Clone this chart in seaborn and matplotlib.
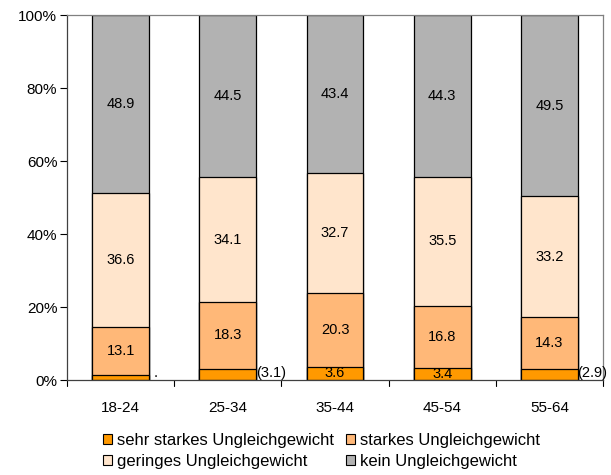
import numpy as np
import pandas as pd
import matplotlib
matplotlib.use('Agg')
import matplotlib.pyplot as plt
import seaborn as sns
from matplotlib.patches import Patch

age_groups = ['18-24', '25-34', '35-44', '45-54', '55-64']
series_names = ['sehr starkes Ungleichgewicht', 'starkes Ungleichgewicht',
                'geringes Ungleichgewicht', 'kein Ungleichgewicht']
sehr_starkes = [1.4, 3.1, 3.6, 3.4, 2.9]
starkes = [13.1, 18.3, 20.3, 16.8, 14.3]
geringes = [36.6, 34.1, 32.7, 35.5, 33.2]
kein = [48.9, 44.5, 43.4, 44.3, 49.5]
colors = ['#FF9900', '#FFB878', '#FFE5CC', '#B2B2B2']

sns.set_style('white')
plt.rcParams['font.family'] = ['Liberation Sans', 'DejaVu Sans']
plt.rcParams['text.color'] = 'black'
plt.rcParams['xtick.color'] = 'black'
plt.rcParams['ytick.color'] = 'black'

df = pd.DataFrame({'age': age_groups, 'sehr': sehr_starkes, 'starkes': starkes,
                   'geringes': geringes, 'kein': kein})
cols = ['sehr', 'starkes', 'geringes', 'kein']
cum = df[cols].cumsum(axis=1)
# normalise top to 100
cum = cum.div(cum['kein'], axis=0) * 100

fig = plt.figure(figsize=(6.11, 4.75), dpi=100)
ax = fig.add_axes([0.1097, 0.2, 0.8773, 0.7684])

# draw tallest cumulative first so smaller ones sit on top
for col, color in zip(cols[::-1], colors[::-1]):
    sns.barplot(x=df['age'], y=cum[col], color=color, width=0.53,
                edgecolor='black', linewidth=0.9, ax=ax, saturation=1)

ax.set_ylim(0, 100)
ax.set_xlim(-0.5, 4.5)
ax.set_yticks([0, 20, 40, 60, 80, 100])
ax.set_yticklabels(['0%', '20%', '40%', '60%', '80%', '100%'], fontsize=11)
ax.set_xticks(range(5))
ax.set_xticklabels(age_groups, fontsize=11)
ax.tick_params(axis='x', length=0, pad=15)
ax.tick_params(axis='y', left=True, length=5, width=0.8, color='black', pad=2)
ax.set_xlabel('')
ax.set_ylabel('')
for b in np.arange(-0.5, 5, 1):
    ax.plot([b, b], [0, -1.6], color='black', lw=0.8, clip_on=False)
for side in ['top', 'right']:
    ax.spines[side].set_color('#808080')
    ax.spines[side].set_linewidth(0.9)
for side in ['left', 'bottom']:
    ax.spines[side].set_color('#404040')
    ax.spines[side].set_linewidth(0.9)

# segment labels
lfs = 10.5
for i in range(5):
    bottoms = [0] + list(cum.iloc[i, :3])
    vals = [sehr_starkes[i], starkes[i], geringes[i], kein[i]]
    for j, (b, v) in enumerate(zip(bottoms, vals)):
        if j == 0:
            if v >= 3.3:
                ax.text(i, b + v / 2, f'{v:.1f}', ha='center', va='center', fontsize=lfs)
            elif v >= 2:
                ax.text(i + 0.262, b + v / 2 + 0.4, f'({v:.1f})', ha='left', va='center', fontsize=lfs)
            else:
                ax.text(i + 0.31, b + 1.8, '.', ha='left', va='center', fontsize=lfs)
        else:
            ax.text(i, b + v / 2, f'{v:.1f}', ha='center', va='center', fontsize=lfs)

handles = [Patch(facecolor=c, edgecolor='black', linewidth=0.8) for c in colors]
order = [0, 2, 1, 3]
fig.legend([handles[k] for k in order], [series_names[k] for k in order],
           loc='center', bbox_to_anchor=(0.526, 0.0505), ncol=2, frameon=False,
           fontsize=12, handlelength=0.55, handleheight=0.55, handletextpad=0.3,
           columnspacing=0.7, labelspacing=0.35, borderpad=0)

fig.savefig('out.png', dpi=100)
